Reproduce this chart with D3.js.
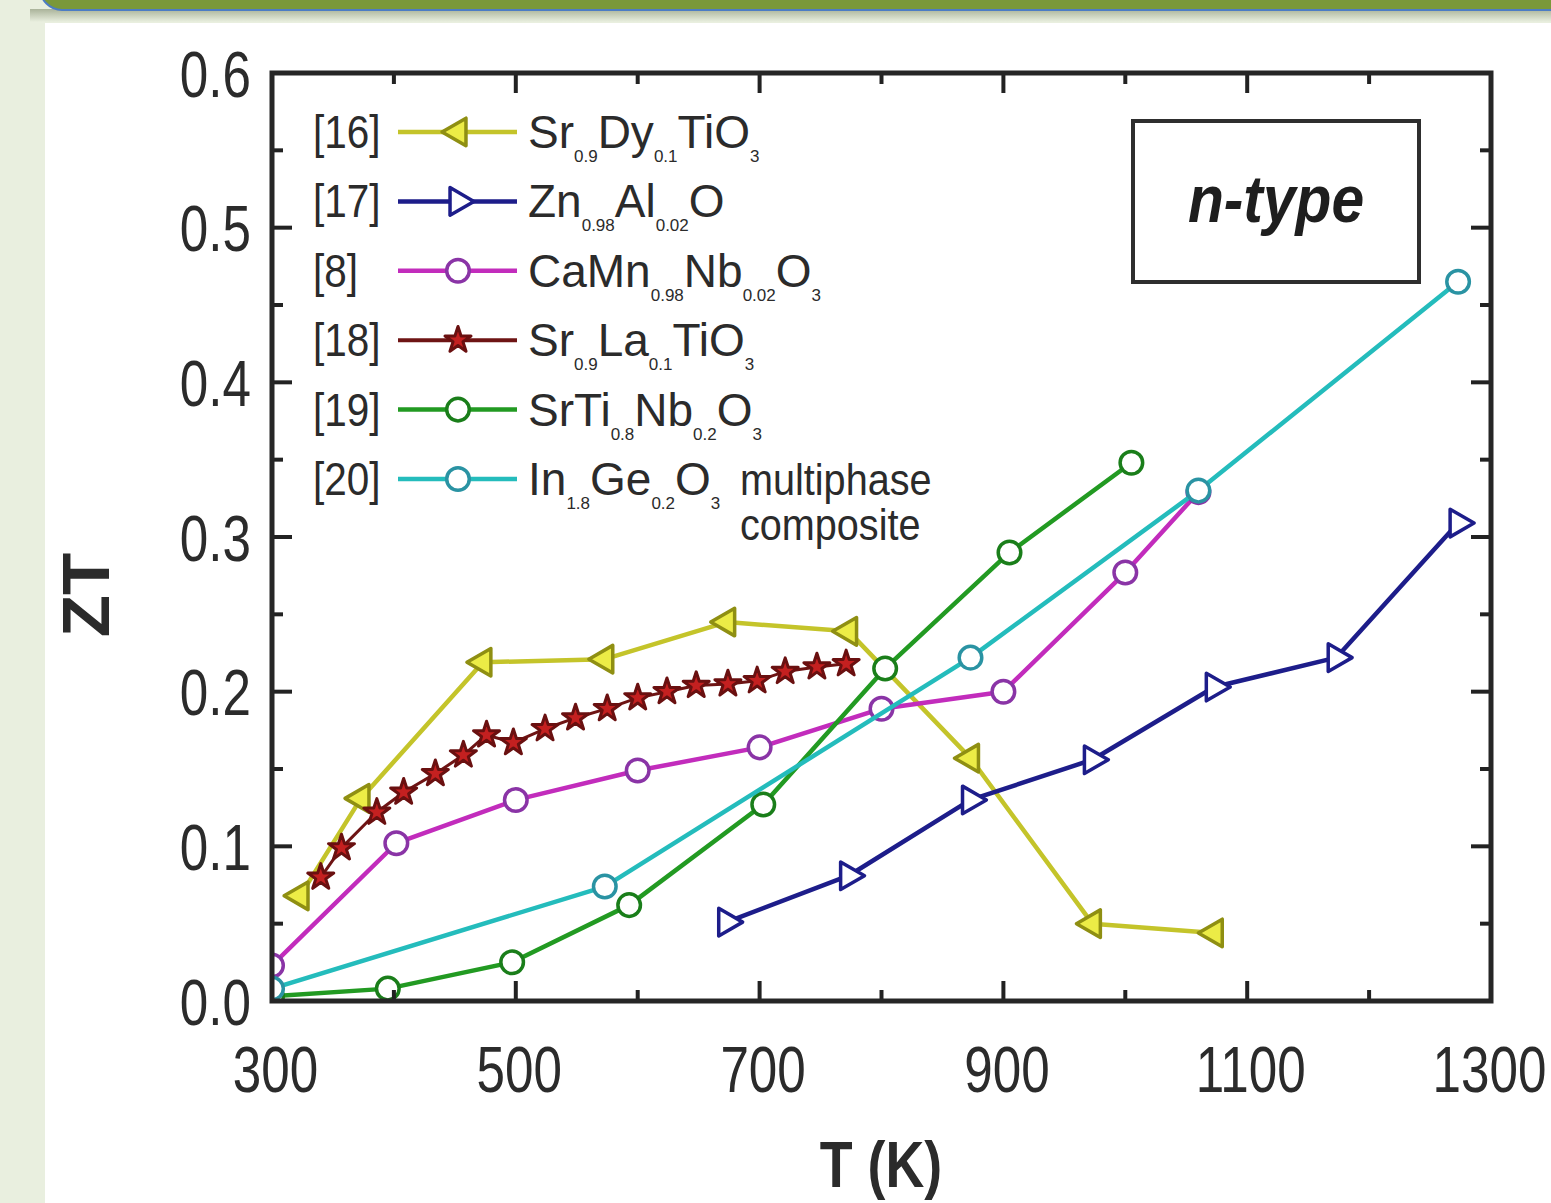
<!DOCTYPE html>
<html>
<head>
<meta charset="utf-8">
<script src="https://cdn.jsdelivr.net/npm/d3@7"></script>
<style>
  body { margin: 0; background: #e9efdf; }
  svg { display: block; }
</style>
</head>
<body>
<div id="chart"></div>
<script>
// ZT vs T data
var tDy = [323, 373, 473, 573, 673, 773, 873, 973, 1073],
    ztDy = [0.068, 0.131, 0.219, 0.221, 0.245, 0.239, 0.157, 0.050, 0.044];

var tZn = [673, 773, 873, 973, 1073, 1173, 1273],
    ztZn = [0.051, 0.081, 0.130, 0.156, 0.203, 0.222, 0.309];

var tCaMn = [300, 402, 500, 600, 700, 800, 900, 1000, 1060],
    ztCaMn = [0.023, 0.102, 0.130, 0.149, 0.164, 0.189, 0.200, 0.277, 0.329];

var tLa = [340, 357, 386, 408, 434, 457, 476, 498, 524, 549, 575, 600, 624, 648, 674, 698, 721, 747, 771],
    ztLa = [0.080, 0.099, 0.122, 0.135, 0.147, 0.159, 0.172, 0.167, 0.176, 0.183, 0.189, 0.196, 0.200, 0.204, 0.205, 0.207, 0.213, 0.216, 0.218];

var tNb = [300, 395, 497, 593, 703, 803, 905, 1005],
    ztNb = [0.003, 0.008, 0.025, 0.062, 0.127, 0.215, 0.290, 0.348];

var tIn = [300, 573, 873, 1060, 1273],
    ztIn = [0.008, 0.074, 0.222, 0.330, 0.465];

var refs = ['[16]', '[17]', '[8]', '[18]', '[19]', '[20]'];
// formula pieces: [text, isSubscript]
var formulas = [
    [['Sr', 0], ['0.9', 1], ['Dy', 0], ['0.1', 1], ['TiO', 0], ['3', 1]],
    [['Zn', 0], ['0.98', 1], ['Al', 0], ['0.02', 1], ['O', 0]],
    [['CaMn', 0], ['0.98', 1], ['Nb', 0], ['0.02', 1], ['O', 0], ['3', 1]],
    [['Sr', 0], ['0.9', 1], ['La', 0], ['0.1', 1], ['TiO', 0], ['3', 1]],
    [['SrTi', 0], ['0.8', 1], ['Nb', 0], ['0.2', 1], ['O', 0], ['3', 1]],
    [['In', 0], ['1.8', 1], ['Ge', 0], ['0.2', 1], ['O', 0], ['3', 1]]
];

var xTicks = [300, 500, 700, 900, 1100, 1300],
    yTicks = [0.0, 0.1, 0.2, 0.3, 0.4, 0.5, 0.6];

var series = [
    {t: tDy, zt: ztDy, line: '#c4c42a', stroke: '#8f8f12', fill: '#ecec46', shape: 'left'},
    {t: tZn, zt: ztZn, line: '#1d1d8a', stroke: '#1d1d8a', fill: '#ffffff', shape: 'right'},
    {t: tCaMn, zt: ztCaMn, line: '#c22cbc', stroke: '#8a34a6', fill: '#ffffff', shape: 'circle'},
    {t: tLa, zt: ztLa, line: '#6e1414', stroke: '#6a1010', fill: '#c42020', shape: 'star'},
    {t: tNb, zt: ztNb, line: '#229a22', stroke: '#1a7e1a', fill: '#ffffff', shape: 'circle'},
    {t: tIn, zt: ztIn, line: '#24bcbc', stroke: '#2a93a3', fill: '#ffffff', shape: 'circle'}
];

var W = 1551, H = 1203,
    font = "'Liberation Sans', Arial, sans-serif",
    ink = '#2b2b2b';

// The original uses a narrow face; squeeze text horizontally to match.
function condense(sel, k) {
    sel.each(function () {
        var len = this.getComputedTextLength();
        d3.select(this)
            .attr('textLength', len * k)
            .attr('lengthAdjust', 'spacingAndGlyphs');
    });
    return sel;
}

var svg = d3.select('#chart').append('svg')
    .attr('width', W)
    .attr('height', H);

// slide background
var defs = svg.append('defs');
var shade = defs.append('linearGradient')
    .attr('id', 'shade')
    .attr('x1', 0).attr('y1', 0).attr('x2', 0).attr('y2', 1);
shade.append('stop').attr('offset', 0).attr('stop-color', '#aab39a');
shade.append('stop').attr('offset', 1).attr('stop-color', '#e9efdf');

svg.append('rect').attr('width', W).attr('height', H).attr('fill', '#e9efdf');
svg.append('rect')
    .attr('x', 30).attr('y', 9).attr('width', W).attr('height', 13)
    .attr('fill', 'url(#shade)');
svg.append('rect')
    .attr('x', 40).attr('y', -40).attr('width', W + 40).attr('height', 50)
    .attr('rx', 22)
    .attr('fill', '#7a983a')
    .attr('stroke', '#4c7cc4')
    .attr('stroke-width', 2);
svg.append('rect')
    .attr('x', 45).attr('y', 23).attr('width', W).attr('height', H)
    .attr('fill', '#ffffff');

// scales
var x = d3.scaleLinear().domain([300, 1300]).range([272, 1491]),
    y = d3.scaleLinear().domain([0, 0.6]).range([1001, 73]);

var plot = svg.append('g');

defs.append('clipPath').attr('id', 'plot-clip')
    .append('rect')
    .attr('x', 272).attr('y', 73)
    .attr('width', 1491 - 272).attr('height', 1001 - 73);

function markerPath(shape) {
    if (shape === 'circle') {
        return d3.symbol().type(d3.symbolCircle).size(400)();
    }
    if (shape === 'star') {
        return d3.symbol().type(d3.symbolStar).size(210)();
    }
    return d3.symbol().type(d3.symbolTriangle).size(330)();
}

function markerRotate(shape) {
    if (shape === 'left') return -90;
    if (shape === 'right') return 90;
    return 0;
}

var line = d3.line()
    .x(function (d) { return x(d[0]); })
    .y(function (d) { return y(d[1]); });

var dataLayer = plot.append('g').attr('clip-path', 'url(#plot-clip)');

series.forEach(function (s) {
    var pts = s.t.map(function (t, i) { return [t, s.zt[i]]; });

    dataLayer.append('path')
        .datum(pts)
        .attr('d', line)
        .attr('fill', 'none')
        .attr('stroke', s.line)
        .attr('stroke-width', s.shape === 'star' ? 3 : 4.5)
        .attr('stroke-linejoin', 'round');

    dataLayer.selectAll(null)
        .data(pts)
        .enter().append('path')
        .attr('d', markerPath(s.shape))
        .attr('transform', function (d) {
            return 'translate(' + x(d[0]) + ',' + y(d[1]) + ') rotate(' + markerRotate(s.shape) + ')';
        })
        .attr('fill', s.fill)
        .attr('stroke', s.stroke)
        .attr('stroke-width', s.shape === 'star' ? 3 : 3.5)
        .attr('stroke-linejoin', 'round');
});

// frame and ticks (ticks point inward on all four sides)
var frame = plot.append('g');

var xMinor = d3.range(300, 1301, 100),
    yMinor = d3.range(0, 0.61, 0.05);

xMinor.forEach(function (v) {
    var major = Math.round(v - 300) % 200 === 0,
        len = major ? 20 : 11;
    frame.append('line')
        .attr('x1', x(v)).attr('x2', x(v))
        .attr('y1', 1001).attr('y2', 1001 - len)
        .attr('stroke', '#222').attr('stroke-width', 4);
    frame.append('line')
        .attr('x1', x(v)).attr('x2', x(v))
        .attr('y1', 73).attr('y2', 73 + len)
        .attr('stroke', '#222').attr('stroke-width', 4);
});

yMinor.forEach(function (v) {
    var major = Math.round(v * 100) % 10 === 0,
        len = major ? 20 : 11;
    frame.append('line')
        .attr('x1', 272).attr('x2', 272 + len)
        .attr('y1', y(v)).attr('y2', y(v))
        .attr('stroke', '#222').attr('stroke-width', 4);
    frame.append('line')
        .attr('x1', 1491).attr('x2', 1491 - len)
        .attr('y1', y(v)).attr('y2', y(v))
        .attr('stroke', '#222').attr('stroke-width', 4);
});

frame.append('rect')
    .attr('x', 272).attr('y', 73)
    .attr('width', 1491 - 272).attr('height', 1001 - 73)
    .attr('fill', 'none')
    .attr('stroke', '#262626')
    .attr('stroke-width', 5);

// tick labels through d3 axes (lines hidden, frame drawn above)
var xAxis = svg.append('g')
    .attr('transform', 'translate(0,1001)')
    .call(d3.axisBottom(x).tickValues(xTicks).tickSize(0).tickPadding(0).tickFormat(d3.format('d')));
xAxis.select('.domain').remove();
xAxis.selectAll('text')
    .attr('x', function (d) { return d === 1300 ? -2 : 3; })
    .attr('y', 91)
    .attr('dy', 0)
    .attr('font-family', font)
    .attr('font-size', 64)
    .attr('fill', ink)
    .call(condense, 0.8);

var yAxis = svg.append('g')
    .attr('transform', 'translate(272,0)')
    .call(d3.axisLeft(y).tickValues(yTicks).tickSize(0).tickPadding(0).tickFormat(d3.format('.1f')));
yAxis.select('.domain').remove();
yAxis.selectAll('text')
    .attr('x', -21)
    .attr('dy', 23)
    .attr('font-family', font)
    .attr('font-size', 64)
    .attr('fill', ink)
    .call(condense, 0.8);

// axis titles
svg.append('text')
    .attr('transform', 'translate(109,595) rotate(-90)')
    .attr('text-anchor', 'middle')
    .attr('font-family', font)
    .attr('font-weight', 'bold')
    .attr('font-size', 66)
    .attr('fill', ink)
    .text('ZT')
    .call(condense, 1.05);

svg.append('text')
    .attr('x', 881).attr('y', 1187)
    .attr('text-anchor', 'middle')
    .attr('font-family', font)
    .attr('font-weight', 'bold')
    .attr('font-size', 64)
    .attr('fill', ink)
    .text('T (K)')
    .call(condense, 0.84);

// legend
var legendY = d3.scalePoint().domain(refs).range([132, 479]);

var legend = svg.append('g');
refs.forEach(function (r, i) {
    var cy = legendY(r),
        s = series[i];
    legend.append('text')
        .attr('x', 313).attr('y', cy + 16)
        .attr('font-family', font)
        .attr('font-size', 46)
        .attr('fill', ink)
        .text(r)
        .call(condense, 0.88);
    legend.append('line')
        .attr('x1', 398).attr('x2', 517)
        .attr('y1', cy).attr('y2', cy)
        .attr('stroke', s.line)
        .attr('stroke-width', s.shape === 'star' ? 4 : 4.5);
    legend.append('path')
        .attr('d', markerPath(s.shape))
        .attr('transform', 'translate(458,' + cy + ') rotate(' + markerRotate(s.shape) + ')')
        .attr('fill', s.fill)
        .attr('stroke', s.stroke)
        .attr('stroke-width', s.shape === 'star' ? 3 : 3.5)
        .attr('stroke-linejoin', 'round');

    var txt = legend.append('text')
        .attr('x', 528).attr('y', cy + 16)
        .attr('font-family', font)
        .attr('fill', ink);
    var shift = 0;
    formulas[i].forEach(function (p) {
        var sub = p[1] === 1,
            want = sub ? 14 : 0;
        txt.append('tspan')
            .attr('dy', want - shift)
            .attr('font-size', sub ? 17 : 46)
            .text(p[0]);
        shift = want;
    });
});

legend.append('text')
    .attr('x', 740).attr('y', 495)
    .attr('font-family', font)
    .attr('font-size', 44)
    .attr('fill', ink)
    .text('multiphase')
    .call(condense, 0.9);
legend.append('text')
    .attr('x', 740).attr('y', 540)
    .attr('font-family', font)
    .attr('font-size', 44)
    .attr('fill', ink)
    .text('composite')
    .call(condense, 0.9);

// n-type box
svg.append('rect')
    .attr('x', 1133).attr('y', 121)
    .attr('width', 1419 - 1133).attr('height', 282 - 121)
    .attr('fill', '#ffffff')
    .attr('stroke', '#2e2e2e')
    .attr('stroke-width', 4);
svg.append('text')
    .attr('x', 1276).attr('y', 222)
    .attr('text-anchor', 'middle')
    .attr('font-family', font)
    .attr('font-weight', 'bold')
    .attr('font-style', 'italic')
    .attr('font-size', 66)
    .attr('fill', '#1e1e1e')
    .text('n-type')
    .call(condense, 0.89);
</script>
</body>
</html>
